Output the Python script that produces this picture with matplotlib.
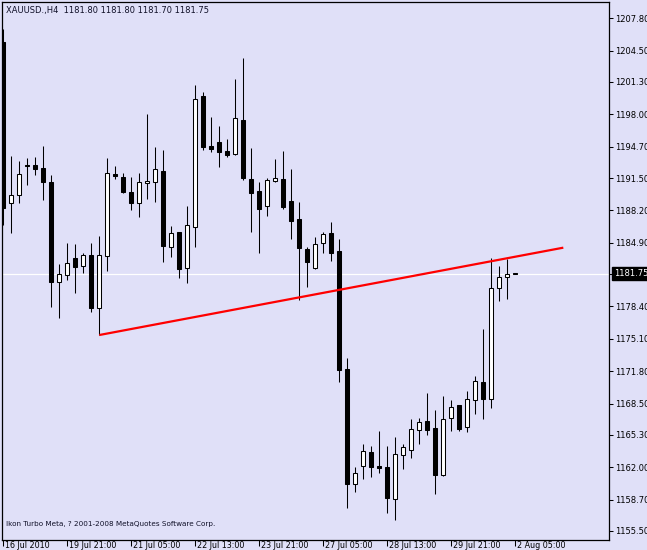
import matplotlib
matplotlib.use("Agg")
import matplotlib.pyplot as plt
import matplotlib.transforms as mtrans

# ---------------- data ----------------
title_text = "XAUUSD.,H4  1181.80 1181.80 1181.70 1181.75"
footer_text = "Ikon Turbo Meta, ? 2001-2008 MetaQuotes Software Corp."

opens = [1205.41, 1188.93, 1189.74, 1192.87, 1192.87, 1192.53, 1191.10, 1180.87, 1181.58, 1183.35,
         1182.53, 1183.65, 1178.28, 1183.58, 1191.95, 1191.61, 1190.11, 1188.99, 1190.97, 1191.13,
         1192.22, 1184.44, 1185.97, 1182.30, 1186.54, 1199.84, 1194.77, 1195.18, 1194.26, 1193.96,
         1197.43, 1191.41, 1190.18, 1188.65, 1191.23, 1191.41, 1189.16, 1187.30, 1184.27, 1182.36,
         1184.85, 1185.87, 1184.06, 1171.99, 1160.26, 1162.16, 1163.53, 1162.16, 1162.03, 1158.79,
         1163.22, 1163.73, 1165.77, 1166.69, 1165.98, 1161.18, 1167.00, 1168.32, 1166.08, 1168.83,
         1170.67, 1168.99, 1180.26, 1181.38, 1181.80]
highs = [1206.68, 1193.75, 1193.21, 1193.55, 1193.68, 1194.80, 1191.82, 1182.74, 1184.85, 1184.78,
         1183.83, 1184.85, 1185.59, 1193.55, 1192.76, 1192.02, 1191.64, 1192.05, 1198.04, 1194.67,
         1194.37, 1186.61, 1186.00, 1188.65, 1201.00, 1200.25, 1197.73, 1196.81, 1195.49, 1201.61,
         1203.75, 1194.57, 1191.10, 1191.51, 1193.45, 1194.26, 1192.43, 1189.03, 1184.44, 1185.49,
         1186.00, 1187.02, 1185.29, 1173.12, 1162.00, 1164.37, 1164.17, 1165.70, 1164.17, 1165.09,
         1164.37, 1166.92, 1167.03, 1169.58, 1167.84, 1169.24, 1168.86, 1168.32, 1169.75, 1171.28,
         1176.07, 1183.35, 1182.53, 1183.24, 1181.80]
lows = [1186.68, 1185.87, 1188.93, 1190.76, 1191.78, 1189.26, 1178.38, 1177.26, 1181.10, 1179.81,
        1181.79, 1177.87, 1175.49, 1182.05, 1191.41, 1189.95, 1188.24, 1187.56, 1189.34, 1189.09,
        1182.97, 1183.48, 1181.28, 1180.77, 1184.42, 1194.37, 1194.16, 1192.66, 1193.68, 1193.86,
        1191.30, 1186.03, 1183.89, 1187.66, 1191.10, 1188.35, 1185.32, 1179.06, 1180.42, 1182.23,
        1183.83, 1183.07, 1170.73, 1157.88, 1159.51, 1160.80, 1160.98, 1161.45, 1157.30, 1156.62,
        1161.86, 1162.99, 1164.40, 1165.32, 1159.30, 1161.10, 1165.73, 1165.73, 1165.63, 1167.47,
        1166.96, 1168.08, 1178.99, 1179.20, 1181.70]
closes = [1188.42, 1189.74, 1191.92, 1192.76, 1192.46, 1191.13, 1180.93, 1181.72, 1182.81, 1182.46,
          1183.65, 1178.28, 1183.65, 1192.02, 1191.74, 1190.05, 1188.99, 1191.10, 1191.20, 1192.40,
          1184.60, 1185.87, 1182.20, 1186.68, 1199.57, 1194.70, 1194.50, 1194.16, 1193.86, 1197.63,
          1191.51, 1190.01, 1188.35, 1191.30, 1191.51, 1188.55, 1187.15, 1184.40, 1182.97, 1184.75,
          1185.77, 1183.89, 1171.92, 1160.33, 1161.39, 1163.66, 1162.06, 1161.96, 1158.90, 1163.35,
          1164.04, 1165.87, 1166.59, 1165.83, 1161.24, 1166.89, 1168.12, 1165.94, 1168.93, 1170.77,
          1168.99, 1180.26, 1181.38, 1181.69, 1181.75]

time_labels = ["16 Jul 2010", "19 Jul 21:00", "21 Jul 05:00", "22 Jul 13:00", "23 Jul 21:00",
               "27 Jul 05:00", "28 Jul 13:00", "29 Jul 21:00", "2 Aug 05:00"]
bars_per_label = 8

price_ticks = [1207.80, 1204.50, 1201.30, 1198.00, 1194.70, 1191.50, 1188.20, 1184.90,
               1178.40, 1175.10, 1171.80, 1168.50, 1165.30, 1162.00, 1158.70, 1155.50]
bid_price = 1181.75

trend_bars = [12, 70]
trend_prices = [1175.49, 1184.40]

# ---------------- style ----------------
BG = "#E0E0F8"
W, H = 647, 550
plt.rcParams["font.family"] = ["DejaVu Sans"]
FS = 6

fig = plt.figure(figsize=(W / 100, H / 100), dpi=100, facecolor=BG)
ax = fig.add_axes([2 / W, 10 / H, 607 / W, 538 / H], facecolor=BG)

n = len(opens)
idx = list(range(n))

ax.vlines(idx, lows, highs, color="black", lw=0.75, zorder=2)
bottoms = [min(o, c) for o, c in zip(opens, closes)]
heights = [abs(c - o) for o, c in zip(opens, closes)]
body_colors = ["white" if c > o else "black" for o, c in zip(opens, closes)]
ax.bar(idx, heights, bottom=bottoms, width=0.52, color=body_colors,
       edgecolor="black", linewidth=0.75, zorder=3)

ax.axhline(bid_price, color="white", lw=0.9, zorder=1)
ax.plot(trend_bars, trend_prices, color="#FF0000", lw=1.6, zorder=5,
        solid_capstyle="butt")

ax.set_xlim(-0.1625, 75.71)
ax.set_ylim(1154.58, 1209.46)

for sp in ax.spines.values():
    sp.set_color("black")
    sp.set_linewidth(0.9)

# right price scale
ax.yaxis.tick_right()
ax.set_yticks(price_ticks)
ax.set_yticklabels([f"{v:.2f}" for v in price_ticks])
ax.tick_params(axis="y", length=3, width=0.75, pad=1.5, labelsize=FS,
               colors="black", direction="out")

# time scale
tick_pos = [i * bars_per_label for i in range(len(time_labels))]
ax.set_xticks(tick_pos)
ax.set_xticklabels([])
ax.tick_params(axis="x", length=4, width=0.75, direction="out", colors="black")
lab_tr = ax.get_xaxis_transform() + mtrans.ScaledTranslation(1.5 / 100, -0.5 / 100, fig.dpi_scale_trans)
for p, lab in zip(tick_pos, time_labels):
    ax.text(p, 0, lab, transform=lab_tr, ha="left", va="top", fontsize=5.8, color="black")

# current price marker on the scale
ax.plot([1, 1.006], [bid_price, bid_price], transform=ax.get_yaxis_transform(),
        color="black", lw=0.75, clip_on=False)
fig.text(614 / W, 1 - 273.5 / H, f"{bid_price:.2f}", color="white", fontsize=FS,
         ha="left", va="center",
         bbox=dict(boxstyle="square,pad=0.25", facecolor="black", edgecolor="black"))

fig.text(6 / W, 1 - 11 / H, title_text, fontsize=FS, color="#101028", ha="left", va="center")
fig.text(6 / W, 1 - 524 / H, footer_text, fontsize=5.2, color="#101028", ha="left", va="center")

fig.savefig("out.png", dpi=100, facecolor=BG)
